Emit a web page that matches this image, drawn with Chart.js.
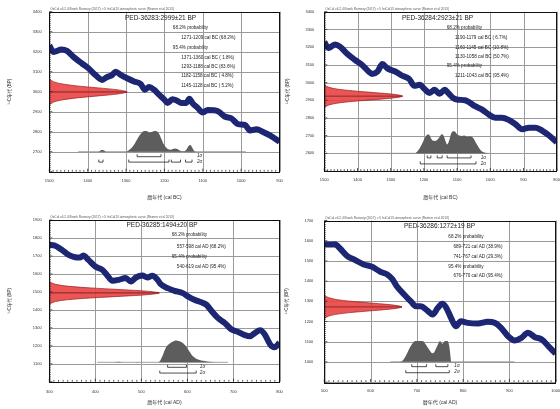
<!DOCTYPE html>
<html lang="ja">
<head>
<meta charset="utf-8">
<title>OxCal calibration plots</title>
<script src="https://cdn.jsdelivr.net/npm/chart.js@4.4.1/dist/chart.umd.min.js"></script>
<style>
  html, body { margin: 0; padding: 0; background: #fff; }
  #wrap { position: relative; width: 560px; height: 409px; overflow: hidden; }
  #wrap canvas { position: absolute; }
</style>
</head>
<body>
<div id="wrap">
  <canvas id="p1" width="290" height="205" style="left:0;top:0"></canvas>
  <canvas id="p3" width="290" height="204" style="left:0;top:205px"></canvas>
  <canvas id="p2" width="280" height="205" style="left:280px;top:0"></canvas>
  <canvas id="p4" width="280" height="204" style="left:280px;top:205px"></canvas>
</div>
<script>
// ---- PED-36283 (cal BC) ----
const curve1Years = [1500,1489,1468,1454,1437,1415,1398,1380,1362,1351,1336,1327,1314,1297,1279,1262,1251,1240,1227,1214,1200,1192,1179,1167,1157,1143,1135,1126,1113,1100,1087,1060,1043,1025,1008,990,977,960,942,925,900];
const curve1Ages  = [3232,3199,3211,3204,3174,3141,3117,3084,3059,3072,3084,3100,3084,3067,3051,3039,3010,3023,3010,2985,2960,2944,2962,2955,2944,2944,2965,2941,2919,2896,2908,2902,2876,2866,2838,2834,2806,2812,2798,2782,2750];
const prob1Years  = [1372,1368,1364,1360,1356,1352,1300,1292,1284,1276,1268,1260,1253,1246,1240,1234,1227,1220,1214,1208,1202,1196,1190,1184,1178,1172,1166,1160,1154,1148,1142,1137,1132,1127,1122,1118];
const prob1Ages   = [2700,2704,2708,2709,2705,2700,2700,2708,2722,2745,2772,2792,2804,2803,2796,2798,2804,2802,2790,2765,2738,2722,2712,2710,2713,2716,2713,2706,2702,2702,2712,2728,2733,2718,2703,2700];
const base1 = 2700;
const baseSpan1 = [1425, 988];
const red1Ages = [3064,3049,3039,3029,3019,3009,2999,2989,2979,2969,2959,2949,2934];
const red1Len  = [0,12,34,72,128,180,203,180,128,72,34,12,0];
const sig1One = [[1271, 1209]];
const sig1Two = [[1371, 1360], [1293, 1188], [1182, 1158], [1145, 1128]];
const text1 = ['PED-36283:2999±21 BP', '68.2% probability', '1271-1209 cal BC (68.2%)', '95.4% probability',
  '1371-1360 cal BC ( 1.8%)', '1293-1188 cal BC (83.6%)', '1182-1158 cal BC ( 4.8%)', '1145-1128 cal BC ( 5.2%)'];

// ---- PED-36284 (cal BC) ----
const curve2Years = [1500,1488,1467,1452,1432,1407,1386,1366,1356,1340,1325,1310,1285,1264,1244,1229,1213,1198,1183,1168,1153,1137,1127,1112,1097,1076,1061,1046,1026,1005,985,965,944,924,904,883,863,843,822,800];
const curve2Ages  = [3229,3195,3214,3201,3164,3127,3099,3061,3048,3061,3104,3080,3061,3037,3019,2981,2987,2963,2941,2959,2937,2959,2941,2913,2903,2900,2885,2866,2848,2820,2801,2801,2788,2764,2736,2745,2745,2727,2699,2662];
const prob2Years  = [1226,1214,1204,1196,1190,1185,1180,1174,1166,1158,1152,1146,1141,1136,1130,1124,1118,1112,1106,1100,1094,1086,1078,1070,1062,1055,1049,1042,1034,1026,1018,1010];
const prob2Ages   = [2600,2625,2660,2690,2705,2706,2690,2672,2670,2680,2695,2708,2700,2675,2650,2672,2712,2725,2722,2708,2700,2698,2700,2694,2696,2692,2680,2655,2630,2612,2604,2600];
const base2 = 2600;
const baseSpan2 = [1400, 1005];
const red2Ages = [2986,2973,2963,2953,2943,2933,2923,2913,2903,2893,2883,2873,2860];
const red2Len  = [0,14,38,85,150,210,236,210,150,85,38,14,0];
const sig2One = [[1190, 1179], [1160, 1145], [1130, 1058]];
const sig2Two = [[1211, 1043]];
const text2 = ['PED-36284:2923±21 BP', '68.2% probability', '1190-1179 cal BC ( 6.7%)', '1160-1145 cal BC (10.8%)',
  '1130-1058 cal BC (50.7%)', '95.4% probability', '1211-1043 cal BC (95.4%)'];

// ---- PED-36285 (cal AD) ----
const curve3Years = [300,312,327,342,356,367,374,385,400,415,426,437,451,466,477,488,502,513,524,535,542,557,572,590,601,615,630,641,652,666,681,696,710,725,736,747,758,769,780,789,800];
const curve3Ages  = [1761,1758,1734,1706,1693,1691,1702,1678,1641,1623,1591,1562,1567,1577,1558,1580,1591,1580,1590,1567,1543,1521,1506,1493,1475,1456,1442,1429,1395,1355,1327,1290,1277,1259,1253,1272,1286,1259,1207,1192,1216];
const prob3Years  = [440,450,460,482,490,498,536,540,546,553,561,568,575,583,590,597,604,612,623,637,648,660];
const prob3Ages   = [1108,1111,1108,1108,1110,1108,1108,1114,1145,1189,1211,1222,1229,1225,1216,1198,1170,1142,1124,1115,1111,1108];
const base3 = 1108;
const baseSpan3 = [404, 688];
const red3Ages = [1556,1542,1532,1522,1512,1504,1494,1484,1476,1466,1456,1446,1432];
const red3Len  = [0,13,39,90,160,211,239,211,160,90,39,13,0];
const sig3One = [[557, 598]];
const sig3Two = [[540, 619]];
const text3 = ['PED-36285:1494±20 BP', '68.2% probability', '557-598 cal AD (68.2%)', '95.4% probability', '540-619 cal AD (95.4%)'];

// ---- PED-36286 (cal AD) ----
const curve4Years = [500,512,523,534,549,567,585,603,621,636,647,657,672,687,698,708,723,734,745,755,763,774,784,795,810,832,853,868,882,897,911,926,940,955,970,984,1000];
const curve4Ages  = [1581,1581,1582,1561,1525,1504,1482,1471,1446,1433,1410,1373,1335,1299,1275,1275,1253,1234,1266,1288,1270,1217,1176,1201,1193,1190,1198,1193,1168,1127,1106,1119,1144,1122,1111,1078,1041];
const prob4Years  = [664,670,676,683,690,697,705,712,719,726,734,739,745,750,755,761,766,770,774];
const prob4Ages   = [1000,1008,1029,1062,1090,1103,1103,1103,1087,1062,1042,1054,1083,1103,1090,1103,1103,1078,1000];
const base4 = 1000;
const baseSpan4 = [643, 911];
const red4Ages = [1330,1318,1309,1300,1290,1281,1272,1263,1254,1244,1235,1226,1214];
const red4Len  = [0,9,25,57,107,150,168,150,107,57,25,9,0];
const sig4One = [[689, 721], [741, 767]];
const sig4Two = [[676, 770]];
const text4 = ['PED-36286:1272±19 BP', '68.2% probability', '689-721 cal AD (38.9%)', '741-767 cal AD (29.3%)',
  '95.4% probability', '676-770 cal AD (95.4%)'];

const HEADER = 'OxCal v4.2.4 Bronk Ramsey (2017); r:5 IntCal13 atmospheric curve (Reimer et al 2013)';
const Y_TITLE = '¹⁴C年代 (BP)';
const FONT = "'Liberation Sans', Arial, 'Noto Sans CJK JP', sans-serif";

Chart.defaults.font.family = FONT;

// 各パネルの設定（レイアウトはピクセル、注記の位置はデータ座標）
const panels = [
  { id: 'p1', reverse: true, xMin: 900, xMax: 1500, yMin: 2600, yMax: 3400, xTitle: '暦年代 (cal BC)',
    curve: [curve1Years, curve1Ages], prob: [prob1Years, prob1Ages], base: base1, baseSpan: baseSpan1,
    red: [red1Ages, red1Len], sigOne: sig1One, sigTwo: sig1Two, labels: text1,
    padTop: 11.7, padRight: 10.5, yWidth: 49.3, xHeight: 33.3, yTickPad: 7.6, xTickPad: 6.4, yTitlePad: 7.3, xTitlePad: 4,
    titleAt: [1210, 3367], headX: 1178, rangeX: 1156, lineY: [3320, 3272, 3222, 3172, 3125, 3078, 3030],
    sigLevels: [2675, 2648], sigLabelX: 1115 },
  { id: 'p2', reverse: true, xMin: 800, xMax: 1500, yMin: 2500, yMax: 3400, xTitle: '暦年代 (cal BC)',
    curve: [curve2Years, curve2Ages], prob: [prob2Years, prob2Ages], base: base2, baseSpan: baseSpan2,
    red: [red2Ages, red2Len], sigOne: sig2One, sigTwo: sig2Two, labels: text2,
    padTop: 11.7, padRight: 3.3, yWidth: 44.3, xHeight: 34, yTickPad: 10, xTickPad: 6.6, yTitlePad: 4.6, xTitlePad: 4,
    titleAt: [1159, 3363], headX: 1131, rangeX: 1106, lineY: [3310, 3253, 3199, 3144, 3093, 3038],
    sigLevels: [2574, 2540], sigLabelX: 1029 },
  { id: 'p3', reverse: false, xMin: 300, xMax: 800, yMin: 1000, yMax: 1900, xTitle: '暦年代 (cal AD)',
    curve: [curve3Years, curve3Ages], prob: [prob3Years, prob3Ages], base: base3, baseSpan: baseSpan3,
    red: [red3Ages, red3Len], sigOne: sig3One, sigTwo: sig3Two, labels: text3,
    padTop: 15, padRight: 10.5, yWidth: 49.3, xHeight: 27.3, yTickPad: 7.6, xTickPad: 7.6, yTitlePad: 7.3, xTitlePad: 3.5,
    titleAt: [545, 1870], headX: 566, rangeX: 577, lineY: [1817, 1752, 1696, 1640],
    sigLevels: [1080, 1048], sigLabelX: 627 },
  { id: 'p4', reverse: false, xMin: 500, xMax: 1000, yMin: 900, yMax: 1700, xTitle: '暦年代 (cal AD)',
    curve: [curve4Years, curve4Ages], prob: [prob4Years, prob4Ages], base: base4, baseSpan: baseSpan4,
    red: [red4Ages, red4Len], sigOne: sig4One, sigTwo: sig4Two, labels: text4,
    padTop: 15.5, padRight: 4.3, yWidth: 44.3, xHeight: 27, yTickPad: 11, xTickPad: 6.6, yTitlePad: 4, xTitlePad: 3.5,
    titleAt: [749, 1672], headX: 768, rangeX: 779, lineY: [1619, 1569, 1519, 1472, 1426],
    sigLevels: [976, 946], sigLabelX: 781 }
];

const toPts = (xs, ys) => xs.map((x, i) => ({ x: x, y: ys[i] }));
const crisp = v => Math.round(v) + 0.5;

// 格子、枠線、目盛り、注記、σ範囲を描くプラグイン
function decor(p) {
  return {
    id: 'decor_' + p.id,
    beforeDatasetsDraw(chart) {
      const ctx = chart.ctx, a = chart.chartArea, xs = chart.scales.x, ys = chart.scales.y;
      ctx.save();
      ctx.strokeStyle = '#9a9a9a';
      ctx.lineWidth = 1;
      ctx.beginPath();
      for (let v = p.xMin; v <= p.xMax; v += 100) {
        const px = crisp(xs.getPixelForValue(v));
        ctx.moveTo(px, a.top);
        ctx.lineTo(px, a.bottom);
      }
      for (let v = p.yMin; v <= p.yMax; v += 100) {
        const py = crisp(ys.getPixelForValue(v));
        ctx.moveTo(a.left, py);
        ctx.lineTo(a.right, py);
      }
      ctx.stroke();
      ctx.restore();
    },
    afterDraw(chart) {
      const ctx = chart.ctx, a = chart.chartArea, xs = chart.scales.x, ys = chart.scales.y;
      ctx.save();
      ctx.strokeStyle = '#111';
      ctx.lineWidth = 1;
      ctx.strokeRect(crisp(a.left), crisp(a.top), Math.round(a.right - a.left), Math.round(a.bottom - a.top));

      // 小目盛り
      ctx.lineWidth = 0.7;
      ctx.beginPath();
      for (let v = p.xMin; v <= p.xMax; v += 10) {
        const px = xs.getPixelForValue(v);
        ctx.moveTo(px, a.bottom);
        ctx.lineTo(px, a.bottom - (v % 100 === 0 ? 3 : 1.8));
      }
      for (let v = p.yMin; v <= p.yMax; v += 10) {
        const py = ys.getPixelForValue(v);
        ctx.moveTo(a.left, py);
        ctx.lineTo(a.left + (v % 100 === 0 ? 3 : 1.5), py);
      }
      ctx.stroke();

      // ヘッダー
      ctx.fillStyle = '#555';
      ctx.font = '3.2px ' + FONT;
      ctx.textAlign = 'left';
      ctx.textBaseline = 'alphabetic';
      ctx.fillText(HEADER, a.left + 1, a.top - 2);

      // タイトルと確率範囲
      ctx.fillStyle = '#222';
      ctx.textBaseline = 'middle';
      ctx.textAlign = 'center';
      ctx.font = '6.5px ' + FONT;
      ctx.fillText(p.labels[0], xs.getPixelForValue(p.titleAt[0]), ys.getPixelForValue(p.titleAt[1]));
      ctx.textAlign = 'left';
      ctx.font = '4.6px ' + FONT;
      p.labels.slice(1).forEach((t, i) => {
        const x = /probability/.test(t) ? p.headX : p.rangeX;
        ctx.fillText(t, xs.getPixelForValue(x), ys.getPixelForValue(p.lineY[i]));
      });

      // σ範囲の括弧
      ctx.strokeStyle = '#222';
      ctx.lineWidth = 0.8;
      [p.sigOne, p.sigTwo].forEach((ranges, k) => {
        const py = ys.getPixelForValue(p.sigLevels[k]);
        ranges.forEach(r => {
          const x1 = xs.getPixelForValue(r[0]), x2 = xs.getPixelForValue(r[1]);
          ctx.beginPath();
          ctx.moveTo(x1, py - 2.5);
          ctx.lineTo(x1, py);
          ctx.lineTo(x2, py);
          ctx.lineTo(x2, py - 2.5);
          ctx.stroke();
        });
        ctx.font = 'italic 4.6px ' + FONT;
        ctx.fillText((k + 1) + 'σ', xs.getPixelForValue(p.sigLabelX), py - 0.5);
      });
      ctx.restore();
    }
  };
}

panels.forEach(p => {
  const edge = p.reverse ? p.xMax : p.xMin;
  const dir = p.reverse ? -1 : 1;
  const redPts = p.red[0].map((age, i) => ({ x: edge + dir * p.red[1][i], y: age }));
  const peak = p.red[1].indexOf(Math.max(...p.red[1]));
  const tickFont = { family: FONT, size: 4 };

  new Chart(document.getElementById(p.id), {
    type: 'line',
    data: {
      datasets: [
        { // 較正曲線
          data: toPts(p.curve[0], p.curve[1]),
          borderColor: '#1c2672', borderWidth: 6, pointRadius: 0,
          cubicInterpolationMode: 'monotone', borderJoinStyle: 'round', fill: false
        },
        { // 測定値の中心線
          data: [{ x: edge, y: p.red[0][peak] }, redPts[peak]],
          borderColor: '#6a1414', borderWidth: 0.7, pointRadius: 0, fill: false
        },
        { // 14C年代の分布（赤）
          data: redPts,
          borderColor: '#9c1c1c', borderWidth: 0.7, backgroundColor: 'rgba(232,66,68,0.9)',
          pointRadius: 0, tension: 0.3, fill: 'shape'
        },
        { // 暦年代の確率分布（灰）
          data: toPts(p.prob[0], p.prob[1]),
          borderWidth: 0, borderColor: 'rgba(0,0,0,0)', backgroundColor: '#5d5d5d',
          pointRadius: 0, cubicInterpolationMode: 'monotone', fill: { value: p.base }
        },
        { // 基線
          data: toPts(p.baseSpan, [p.base, p.base]),
          borderColor: '#8a8a8a', borderWidth: 0.8, pointRadius: 0, fill: false
        }
      ]
    },
    options: {
      responsive: false,
      animation: false,
      devicePixelRatio: 1,
      layout: { padding: { left: 0, right: p.padRight, top: p.padTop, bottom: 0 } },
      plugins: { legend: { display: false }, tooltip: { enabled: false } },
      scales: {
        x: {
          type: 'linear', min: p.xMin, max: p.xMax, reverse: p.reverse,
          afterFit: s => { s.height = p.xHeight; s.paddingLeft = 0; s.paddingRight = 0; },
          ticks: { stepSize: 100, autoSkip: false, maxRotation: 0, padding: p.xTickPad,
                   font: tickFont, color: '#333', callback: v => String(v) },
          grid: { display: false, drawTicks: false },
          border: { display: false },
          title: { display: true, text: p.xTitle, color: '#333',
                   font: { family: FONT, size: 5 }, padding: { top: 0, bottom: p.xTitlePad } }
        },
        y: {
          type: 'linear', min: p.yMin, max: p.yMax,
          afterFit: s => { s.width = p.yWidth; s.paddingTop = 0; s.paddingBottom = 0; },
          ticks: { stepSize: 100, autoSkip: false, padding: p.yTickPad,
                   font: tickFont, color: '#333', callback: v => (v === p.yMin ? '' : String(v)) },
          grid: { display: false, drawTicks: false },
          border: { display: false },
          title: { display: true, text: Y_TITLE, color: '#333',
                   font: { family: FONT, size: 4.5 }, padding: { top: p.yTitlePad, bottom: 0 } }
        }
      }
    },
    plugins: [decor(p)]
  });
});
</script>
</body>
</html>
